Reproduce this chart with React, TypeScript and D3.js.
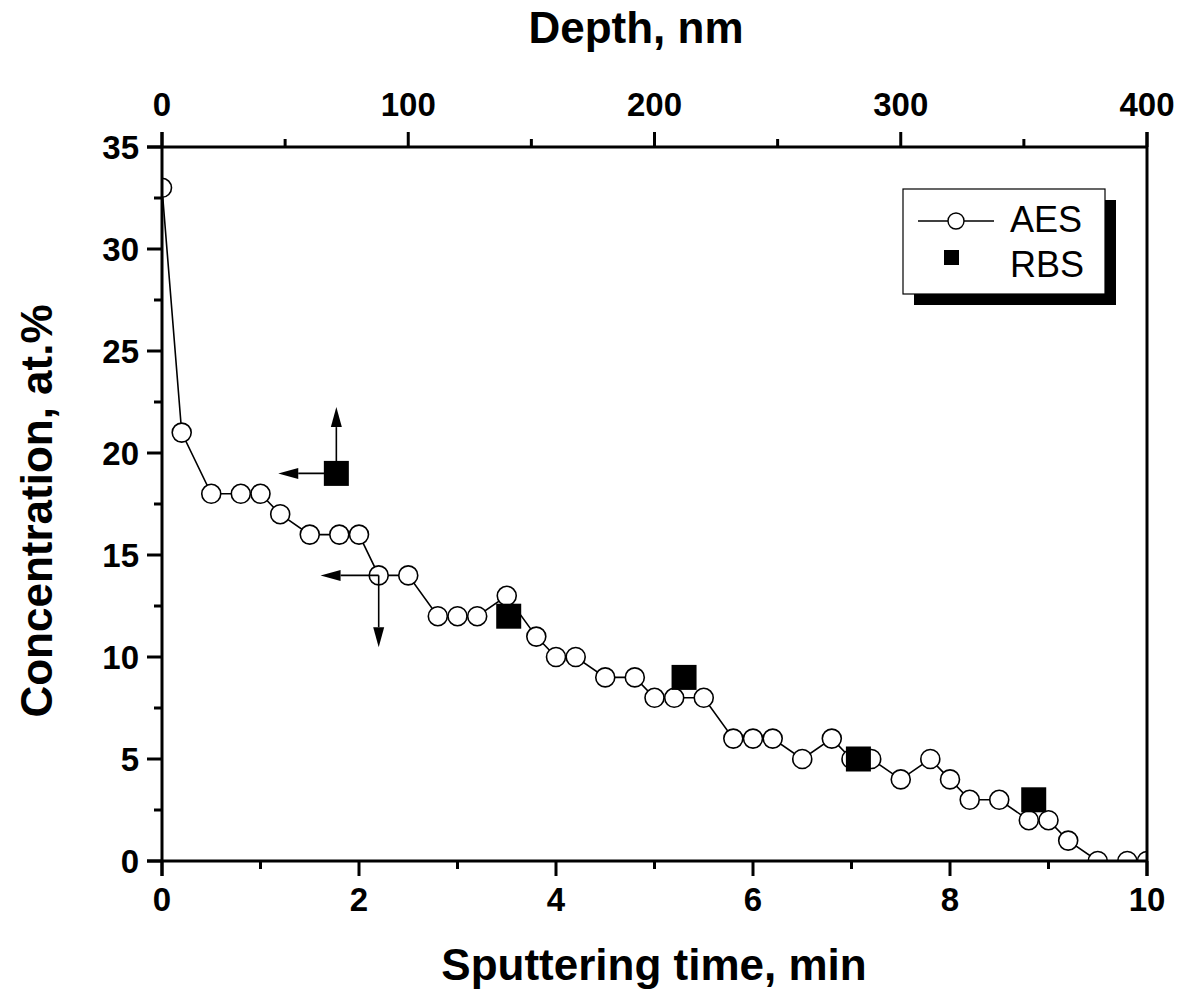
import React from "react";
import * as d3 from "d3";

const aesTime = [0, 0.2, 0.5, 0.8, 1.0, 1.2, 1.5, 1.8, 2.0, 2.2, 2.5, 2.8, 3.0, 3.2, 3.5, 3.8, 4.0, 4.2, 4.5, 4.8, 5.0, 5.2, 5.5, 5.8, 6.0, 6.2, 6.5, 6.8, 7.0, 7.2, 7.5, 7.8, 8.0, 8.2, 8.5, 8.8, 9.0, 9.2, 9.5, 9.8, 10.0];
const aesConc = [33, 21, 18, 18, 18, 17, 16, 16, 16, 14, 14, 12, 12, 12, 13, 11, 10, 10, 9, 9, 8, 8, 8, 6, 6, 6, 5, 6, 5, 5, 4, 5, 4, 3, 3, 2, 2, 1, 0, 0, 0];
const rbsTime = [1.77, 3.52, 5.3, 7.07, 8.85];
const rbsConc = [19, 12, 9, 5, 3];

const xTicks = [0, 2, 4, 6, 8, 10];
const xMinor = [1, 3, 5, 7, 9];
const yTicks = [0, 5, 10, 15, 20, 25, 30, 35];
const yMinor = [2.5, 7.5, 12.5, 17.5, 22.5, 27.5, 32.5];
const depthTicks = [0, 100, 200, 300, 400];
const depthMinor = [50, 150, 250, 350];

// arrow annotations: [fromTime, fromConc, toTime, toConc]
const arrows = [
  [1.77, 19, 1.77, 22.25],
  [1.77, 19, 1.18, 19],
  [2.2, 14, 1.61, 14],
  [2.2, 14, 2.2, 10.48],
];

const FONT = "'Liberation Sans', Arial, Helvetica, sans-serif";

export default function App() {
  const L = 162, R = 1147, T = 147, B = 861;
  const x = d3.scaleLinear().domain([0, 10]).range([L, R]);
  const xd = d3.scaleLinear().domain([0, 400]).range([L, R]);
  const y = d3.scaleLinear().domain([0, 35]).range([B, T]);

  const pts = aesTime.map((t, i) => [t, aesConc[i]] as [number, number]);
  const line = d3.line<[number, number]>().x(d => x(d[0])).y(d => y(d[1]));

  const AW = 3;
  const major = 15, minor = 8;
  const sq = 25;
  const TF = 33;

  const arrowPath = (a: number[]) => {
    const x1 = x(a[0]), y1 = y(a[1]), x2 = x(a[2]), y2 = y(a[3]);
    const dx = x2 - x1, dy = y2 - y1;
    const len = Math.hypot(dx, dy);
    const ux = dx / len, uy = dy / len;
    const hl = 20, hw = 5.5;
    const bx = x2 - ux * hl, by = y2 - uy * hl;
    return {
      shaft: `M${x1},${y1}L${bx},${by}`,
      head: `M${x2},${y2}L${bx - uy * hw},${by + ux * hw}L${bx + uy * hw},${by - ux * hw}Z`,
    };
  };

  return (
    <svg width={1191} height={997} style={{ position: "absolute", left: 0, top: 0, background: "#fff" }} fontFamily={FONT}>
      <defs>
        <clipPath id="plotclip">
          <rect x={L} y={T} width={R - L} height={B - T} />
        </clipPath>
      </defs>
      <rect x={0} y={0} width={1191} height={997} fill="#fff" />

      {/* data */}
      <g clipPath="url(#plotclip)">
        <path d={line(pts) || ""} fill="none" stroke="#000" strokeWidth={1.6} />
        {pts.map((d, i) => (
          <circle key={i} cx={x(d[0])} cy={y(d[1])} r={9.5} fill="#fff" stroke="#000" strokeWidth={1.6} />
        ))}
        {rbsTime.map((t, i) => (
          <rect key={i} x={x(t) - sq / 2} y={y(rbsConc[i]) - sq / 2} width={sq} height={sq} fill="#000" />
        ))}
      </g>

      {/* arrows */}
      {arrows.map((a, i) => {
        const p = arrowPath(a);
        return (
          <g key={i}>
            <path d={p.shaft} stroke="#000" strokeWidth={1.6} fill="none" />
            <path d={p.head} fill="#000" />
          </g>
        );
      })}

      {/* frame */}
      <line x1={L} y1={T - major} x2={L} y2={B + major} stroke="#000" strokeWidth={AW} />
      <line x1={R} y1={T - major} x2={R} y2={B + major} stroke="#000" strokeWidth={AW} />
      <line x1={L - major} y1={T} x2={R} y2={T} stroke="#000" strokeWidth={AW} />
      <line x1={L - major} y1={B} x2={R} y2={B} stroke="#000" strokeWidth={AW} />

      {/* bottom axis */}
      {xTicks.map(t => (
        <g key={"xb" + t}>
          <line x1={x(t)} x2={x(t)} y1={B} y2={B + major} stroke="#000" strokeWidth={AW} />
          <text x={x(t)} y={911} textAnchor="middle" fontSize={TF} fontWeight="bold">{t}</text>
        </g>
      ))}
      {xMinor.map(t => (
        <line key={"xm" + t} x1={x(t)} x2={x(t)} y1={B} y2={B + minor} stroke="#000" strokeWidth={AW} />
      ))}

      {/* top axis */}
      {depthTicks.map(t => (
        <g key={"xt" + t}>
          <line x1={xd(t)} x2={xd(t)} y1={T} y2={T - major} stroke="#000" strokeWidth={AW} />
          <text x={xd(t)} y={116} textAnchor="middle" fontSize={TF} fontWeight="bold">{t}</text>
        </g>
      ))}
      {depthMinor.map(t => (
        <line key={"xtm" + t} x1={xd(t)} x2={xd(t)} y1={T} y2={T - minor} stroke="#000" strokeWidth={AW} />
      ))}

      {/* left axis */}
      {yTicks.map(t => (
        <g key={"y" + t}>
          <line x1={L} x2={L - major} y1={y(t)} y2={y(t)} stroke="#000" strokeWidth={AW} />
          <text x={139} y={y(t)} dy="0.36em" textAnchor="end" fontSize={TF} fontWeight="bold">{t}</text>
        </g>
      ))}
      {yMinor.map(t => (
        <line key={"ym" + t} x1={L} x2={L - minor} y1={y(t)} y2={y(t)} stroke="#000" strokeWidth={AW} />
      ))}

      {/* titles */}
      <text x={636} y={43} textAnchor="middle" fontSize={44} fontWeight="bold">Depth, nm</text>
      <text x={654} y={980} textAnchor="middle" fontSize={44} fontWeight="bold">Sputtering time, min</text>
      <text transform="translate(52,511) rotate(-90)" textAnchor="middle" fontSize={44} fontWeight="bold">Concentration, at.%</text>

      {/* legend */}
      <g>
        <rect x={914} y={200} width={202} height={105} fill="#000" />
        <rect x={903} y={189} width={202} height={105} fill="#fff" stroke="#000" strokeWidth={1.2} />
        <line x1={918} x2={994} y1={221} y2={221} stroke="#000" strokeWidth={1.6} />
        <circle cx={956} cy={221} r={8} fill="#fff" stroke="#000" strokeWidth={1.4} />
        <text x={1010} y={232} fontSize={36}>AES</text>
        <rect x={944} y={250} width={15} height={15} fill="#000" />
        <text x={1010} y={277} fontSize={36}>RBS</text>
      </g>
    </svg>
  );
}
